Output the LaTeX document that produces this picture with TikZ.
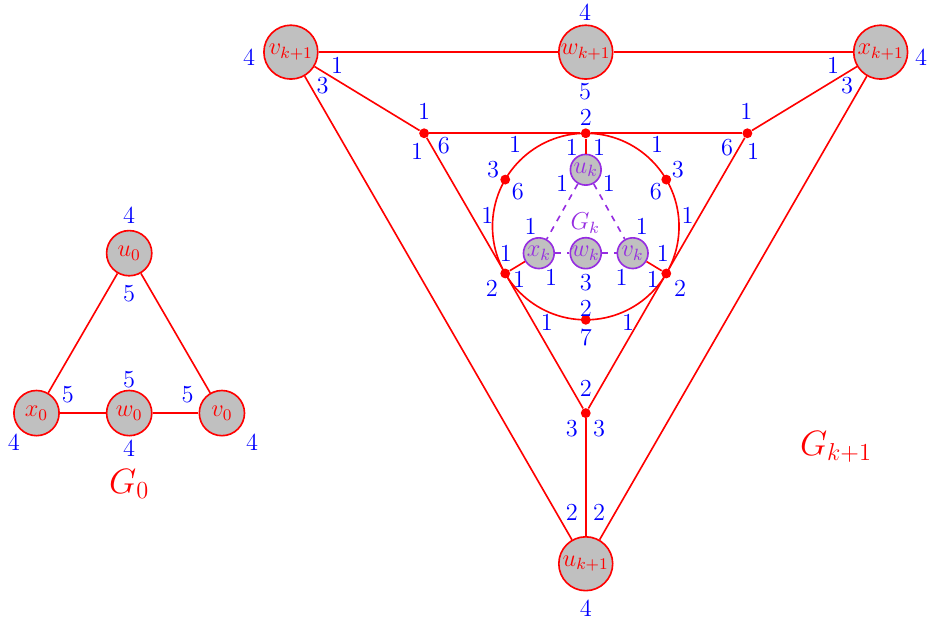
\documentclass[12pt,tikz,border=0pt]{standalone}
\usepackage{tikz}
\definecolor{GkPurple}{RGB}{150,45,225}
\definecolor{NodeGray}{RGB}{192,192,192}

\begin{document}
\begin{tikzpicture}[
  vtx/.style={circle, draw=red, fill=NodeGray,
    thick, text=red, inner sep=0pt},
  big/.style={vtx, minimum size=0.93cm},
  small/.style={vtx, minimum size=0.78cm},
  gk/.style={vtx, draw=GkPurple,
    text=GkPurple, minimum size=0.53cm},
  dot/.style={circle, fill=red,
    inner sep=0pt, minimum size=0.17cm},
  num/.style={text=blue, inner sep=0pt},
  title/.style={text=red, font=\Large},
  edge/.style={red, thick},
  gkedge/.style={GkPurple, thick, dashed}
]
\useasboundingbox (0,0) rectangle (16,-10.667);

% G_0
\node[small] (u0) at (2.23,-4.37) {$u_0$};
\node[small] (x0) at (0.63,-7.13) {$x_0$};
\node[small] (w0) at (2.23,-7.13) {$w_0$};
\node[small] (v0) at (3.83,-7.13) {$v_0$};
\draw[edge] (u0) -- (x0);
\draw[edge] (u0) -- (v0);
\draw[edge] (x0) -- (w0) -- (v0);
\node[title] (g0) at (2.23,-8.35) {$G_0$};

\foreach \x/\y/\t [count=\i] in {
  2.23/-3.71/4, 2.23/-5.06/5, 1.17/-6.82/5,
  0.24/-7.63/4, 2.23/-6.56/5, 2.23/-7.73/4,
  3.24/-6.82/5, 4.35/-7.63/4}
  \node[num] (a\i) at (\x,\y) {\t};

% G_{k+1}
\node[big] (vk1) at (5.02,-0.90) {$v_{k+1}$};
\node[big] (wk1) at (10.11,-0.90) {$w_{k+1}$};
\node[big] (xk1) at (15.20,-0.90) {$x_{k+1}$};
\node[big] (uk1) at (10.11,-9.73) {$u_{k+1}$};

\coordinate (c) at (10.11,-3.91);
\draw[edge] (c) circle (1.61);

\node[dot] (pl) at (7.32,-2.30) {};
\node[dot] (pt) at (10.11,-2.30) {};
\node[dot] (pr) at (12.90,-2.30) {};
\node[dot] (pb) at (10.11,-7.13) {};
\node[dot] (q150) at (8.72,-3.10) {};
\node[dot] (q30) at (11.50,-3.10) {};
\node[dot] (q210) at (8.72,-4.72) {};
\node[dot] (q330) at (11.50,-4.72) {};
\node[dot] (q270) at (10.11,-5.52) {};

\node[gk] (uk) at (10.11,-2.93) {$u_k$};
\node[gk] (xk) at (9.30,-4.37) {$x_k$};
\node[gk] (wk) at (10.11,-4.37) {$w_k$};
\node[gk] (vk) at (10.92,-4.37) {$v_k$};
\node[text=GkPurple] (gk) at (10.10,-3.85) {$G_k$};

\draw[edge] (vk1) -- (wk1) -- (xk1);
\draw[edge] (vk1) -- (uk1);
\draw[edge] (xk1) -- (uk1);
\draw[edge] (vk1) -- (pl);
\draw[edge] (xk1) -- (pr);
\draw[edge] (pl) -- (pt) -- (pr);
\draw[edge] (pl) -- (q210) -- (pb);
\draw[edge] (pr) -- (q330) -- (pb);
\draw[edge] (pb) -- (uk1);
\draw[edge] (pt) -- (uk);
\draw[edge] (q210) -- (xk);
\draw[edge] (q330) -- (vk);
\draw[gkedge] (uk) -- (xk);
\draw[gkedge] (uk) -- (vk);
\draw[gkedge] (xk) -- (wk) -- (vk);

\foreach \x/\y/\t [count=\i] in {
  4.30/-0.98/4, 5.82/-1.12/1, 5.57/-1.48/3,
  10.10/-0.22/4, 10.10/-1.59/5, 7.32/-1.93/1,
  7.20/-2.62/1, 7.66/-2.52/6, 10.11/-2.02/2,
  8.89/-2.50/1, 9.87/-2.54/1, 10.34/-2.54/1,
  11.34/-2.50/1, 12.55/-2.54/6, 13.00/-2.62/1,
  12.88/-1.93/1, 14.38/-1.12/1, 14.62/-1.48/3,
  15.90/-0.98/4, 8.51/-2.93/3, 8.94/-3.31/6,
  11.70/-2.93/3, 11.32/-3.31/6, 8.41/-3.71/1,
  11.87/-3.71/1, 9.70/-3.16/1, 10.51/-3.16/1,
  9.16/-3.90/1, 9.51/-4.78/1, 11.08/-3.90/1,
  10.73/-4.78/1, 10.11/-4.87/3, 8.73/-4.37/1,
  8.96/-4.83/1, 8.49/-4.97/2, 11.44/-4.37/1,
  11.27/-4.83/1, 11.74/-4.97/2, 10.11/-5.32/2,
  10.11/-5.82/7, 9.44/-5.57/1, 10.84/-5.57/1,
  10.11/-6.70/2, 9.87/-7.39/3, 10.34/-7.39/3,
  9.87/-8.85/2, 10.34/-8.85/2, 10.11/-10.49/4}
  \node[num] (b\i) at (\x,\y) {\t};

\node[title] (gk1) at (14.43,-7.71) {$G_{k+1}$};

\end{tikzpicture}
\end{document}
